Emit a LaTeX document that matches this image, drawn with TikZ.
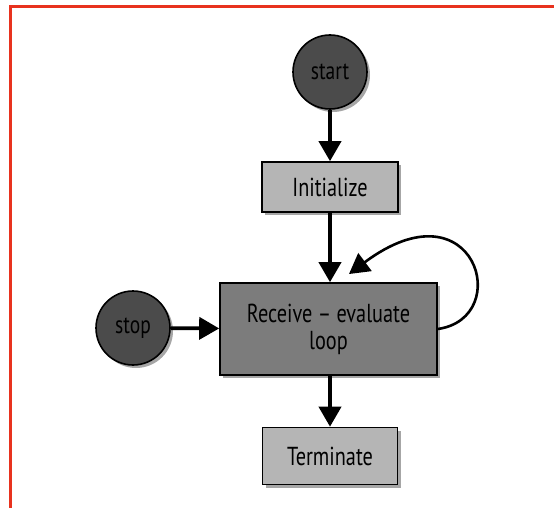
\documentclass[tikz,border=0pt]{standalone}
\usepackage{fontspec}
\setmainfont[FakeStretch=0.78]{PT Sans}
\usetikzlibrary{arrows.meta,shadows}
\definecolor{frame}{HTML}{E8321E}
\definecolor{darkfill}{HTML}{4B4B4B}
\definecolor{midfill}{HTML}{7C7C7C}
\definecolor{lightfill}{HTML}{B5B5B5}
\tikzset{
  shd/.style={drop shadow={shadow xshift=3pt,shadow yshift=-3pt,opacity=0.35,fill=black}},
  term/.style={circle,draw=black,line width=1.6pt,fill=darkfill,minimum size=74pt,inner sep=0pt,shd,font=\fontsize{25}{27}\selectfont},
  lbox/.style={rectangle,draw=black,line width=1.6pt,fill=lightfill,inner sep=0pt,shd,font=\fontsize{26}{27}\selectfont},
  mbox/.style={rectangle,draw=black,line width=1.6pt,fill=midfill,inner sep=0pt,shd,font=\fontsize{26}{27}\selectfont,align=center},
  conn/.style={line width=3.8pt,-{Triangle[length=20pt,width=22pt]}},
}
\begin{document}
\begin{tikzpicture}[x=1pt,y=-1pt]
\useasboundingbox (0,0) rectangle (554,508);
\fill[white] (0,0) rectangle (554,508);
\draw[frame,line width=3pt] (10,508) -- (10,7) -- (554,7);
\node[term] (start) at (330,72) {start};
\node[lbox,minimum width=136pt,minimum height=50pt] (init) at (330,187) {Initialize};
\node[mbox,minimum width=217pt,minimum height=92pt] (recv) at (328.5,329) {Receive -- evaluate\\loop};
\node[term] (stop) at (133,328) {stop};
\node[lbox,minimum width=135pt,minimum height=57pt] (term) at (330,456) {Terminate};
\coordinate (loopin) at (349,274);
\draw[conn] (start) -- (init);
\draw[conn] (init) -- (recv.north -| init);
\draw[conn] (stop) -- (recv);
\draw[conn] (recv.south -| term) -- (term);
\draw[line width=2.6pt,-{Triangle[length=20pt,width=22pt]}] (recv.east) .. controls (515,318) and (475,180) .. (loopin);
\end{tikzpicture}
\end{document}
